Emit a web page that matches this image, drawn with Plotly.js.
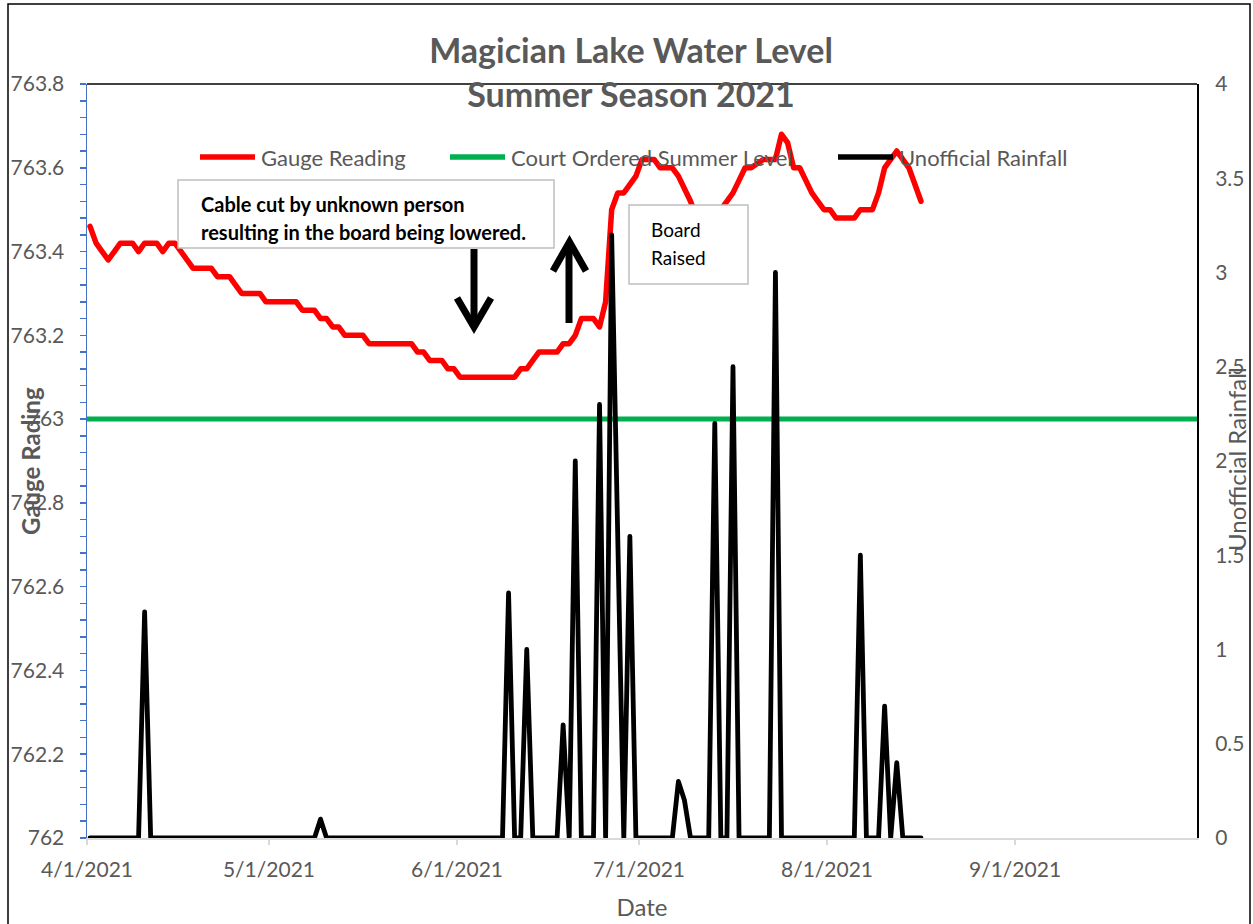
<!DOCTYPE html>
<html>
<head>
<meta charset="utf-8">
<script src="https://cdn.plot.ly/plotly-3.0.1.min.js"></script>
<style>
  html, body { margin: 0; padding: 0; background: #fff; }
  #chart { width: 1253px; height: 924px; }
  .scatterlayer path.js-line { stroke-linejoin: round; stroke-linecap: round; }
</style>
</head>
<body>
<div id="chart"></div>
<script>
// ---------------- DATA ----------------
const startDate = '2021-04-01';

const gaugeReading = [
  763.46, 763.42, 763.40, 763.38, 763.40, 763.42, 763.42, 763.42, 763.40, 763.42,
  763.42, 763.42, 763.40, 763.42, 763.42, 763.40, 763.38, 763.36, 763.36, 763.36,
  763.36, 763.34, 763.34, 763.34, 763.32, 763.30, 763.30, 763.30, 763.30, 763.28,
  763.28, 763.28, 763.28, 763.28, 763.28, 763.26, 763.26, 763.26, 763.24, 763.24,
  763.22, 763.22, 763.20, 763.20, 763.20, 763.20, 763.18, 763.18, 763.18, 763.18,
  763.18, 763.18, 763.18, 763.18, 763.16, 763.16, 763.14, 763.14, 763.14, 763.12,
  763.12, 763.10, 763.10, 763.10, 763.10, 763.10, 763.10, 763.10, 763.10, 763.10,
  763.10, 763.12, 763.12, 763.14, 763.16, 763.16, 763.16, 763.16, 763.18, 763.18,
  763.20, 763.24, 763.24, 763.24, 763.22, 763.28, 763.50, 763.54, 763.54, 763.56,
  763.58, 763.62, 763.62, 763.62, 763.60, 763.60, 763.60, 763.58, 763.55, 763.52,
  763.48, 763.46, 763.46, 763.48, 763.50, 763.52, 763.54, 763.57, 763.60, 763.60,
  763.61, 763.62, 763.62, 763.62, 763.68, 763.66, 763.60, 763.60, 763.57, 763.54,
  763.52, 763.50, 763.50, 763.48, 763.48, 763.48, 763.48, 763.50, 763.50, 763.50,
  763.54, 763.60, 763.62, 763.64, 763.62, 763.60, 763.56, 763.52
];

const unofficialRainfall = [
  0, 0, 0, 0, 0, 0, 0, 0, 0, 1.2,
  0, 0, 0, 0, 0, 0, 0, 0, 0, 0,
  0, 0, 0, 0, 0, 0, 0, 0, 0, 0,
  0, 0, 0, 0, 0, 0, 0, 0, 0.1, 0,
  0, 0, 0, 0, 0, 0, 0, 0, 0, 0,
  0, 0, 0, 0, 0, 0, 0, 0, 0, 0,
  0, 0, 0, 0, 0, 0, 0, 0, 0, 1.3,
  0, 0, 1.0, 0, 0, 0, 0, 0, 0.6, 0,
  2.0, 0, 0, 0, 2.3, 0, 3.2, 1.6, 0, 1.6,
  0, 0, 0, 0, 0, 0, 0, 0.3, 0.2, 0,
  0, 0, 0, 2.2, 0, 0, 2.5, 0, 0, 0,
  0, 0, 0, 3.0, 0, 0, 0, 0, 0, 0,
  0, 0, 0, 0, 0, 0, 0, 1.5, 0, 0,
  0, 0.7, 0, 0.4, 0, 0, 0, 0
];

const courtLevelDates = ['2021-04-01', '2021-10-01'];
const courtOrderedLevel = [763.0, 763.0];

const tickDates = ['2021-04-01', '2021-05-01', '2021-06-01', '2021-07-01', '2021-08-01', '2021-09-01'];
const tickLabels = ['4/1/2021', '5/1/2021', '6/1/2021', '7/1/2021', '8/1/2021', '9/1/2021'];

// daily date categories (points sit mid-day, like Excel's "between tick marks")
const dates = gaugeReading.map((_, i) => {
  const d = new Date(Date.UTC(2021, 3, 1 + i, 12));
  return d.toISOString().slice(0, 10) + ' 12:00';
});

// ---------------- LAYOUT HELPERS ----------------
const W = 1253, H = 924;
const L = 87, R = 1197, T = 84, B = 838;
const px = x => (x - L) / (R - L);
const py = y => (B - y) / (B - T);
const FONT = 'Lato, "Open Sans", sans-serif';
const GRAY = '#595959';

function pathFrom(points) {
  return points.map((p, i) => (i ? 'L' : 'M') + px(p[0]).toFixed(5) + ',' + py(p[1]).toFixed(5)).join(' ');
}

const traces = [
  {
    x: dates, y: gaugeReading, name: 'Gauge Reading', type: 'scatter', mode: 'lines',
    line: { color: '#ff0000', width: 5.5 }, yaxis: 'y', showlegend: false
  },
  {
    x: courtLevelDates, y: courtOrderedLevel, name: 'Court Ordered Summer Level', type: 'scatter', mode: 'lines',
    line: { color: '#00b050', width: 5 }, yaxis: 'y', showlegend: false
  },
  {
    x: dates, y: unofficialRainfall, name: 'Unofficial Rainfall', type: 'scatter', mode: 'lines',
    line: { color: '#000000', width: 4.8 }, yaxis: 'y2', showlegend: false
  }
];

const legendItems = [
  { label: 'Gauge Reading', color: '#ff0000', x: 200 },
  { label: 'Court Ordered Summer Level', color: '#00b050', x: 450 },
  { label: 'Unofficial Rainfall', color: '#000000', x: 838 }
];
const legendY = 157;

const shapes = [
  // outer chart border
  { type: 'rect', xref: 'paper', yref: 'paper', x0: px(8), x1: px(1250), y0: py(940), y1: py(4),
    line: { color: '#000', width: 1.5 }, fillcolor: 'rgba(0,0,0,0)', layer: 'below' },
  // plot area top border
  { type: 'line', xref: 'paper', yref: 'paper', x0: 0, x1: 1, y0: 1, y1: 1,
    line: { color: '#000', width: 1.5 }, layer: 'below' },
  // text boxes
  { type: 'rect', xref: 'paper', yref: 'paper', x0: px(178), x1: px(554), y0: py(248), y1: py(180),
    line: { color: '#bfbfbf', width: 1.5 }, fillcolor: '#ffffff', layer: 'above' },
  { type: 'rect', xref: 'paper', yref: 'paper', x0: px(629), x1: px(748), y0: py(284), y1: py(205),
    line: { color: '#bfbfbf', width: 1.5 }, fillcolor: '#ffffff', layer: 'above' },
  // down arrow
  { type: 'path', xref: 'paper', yref: 'paper', path: pathFrom([[474, 249], [474, 326]]),
    line: { color: '#000', width: 7 }, layer: 'above' },
  { type: 'path', xref: 'paper', yref: 'paper', path: pathFrom([[457, 298], [474, 327], [491, 298]]),
    line: { color: '#000', width: 7 }, layer: 'above' },
  // up arrow
  { type: 'path', xref: 'paper', yref: 'paper', path: pathFrom([[569, 323], [569, 243]]),
    line: { color: '#000', width: 7 }, layer: 'above' },
  { type: 'path', xref: 'paper', yref: 'paper', path: pathFrom([[553, 271], [569.5, 242], [586, 271]]),
    line: { color: '#000', width: 7 }, layer: 'above' }
];
legendItems.forEach(it => {
  shapes.push({ type: 'line', xref: 'paper', yref: 'paper', x0: px(it.x), x1: px(it.x + 55),
    y0: py(legendY), y1: py(legendY), line: { color: it.color, width: 5.5 }, layer: 'above' });
});

const annotations = [
  { text: 'Cable cut by unknown person', x: px(199), y: py(204), xanchor: 'left', yanchor: 'middle',
    font: { family: FONT, size: 20, color: '#000', weight: 'bold' } },
  { text: 'resulting in the board being lowered.', x: px(199), y: py(232), xanchor: 'left', yanchor: 'middle',
    font: { family: FONT, size: 20, color: '#000', weight: 'bold' } },
  { text: 'Board', x: px(649), y: py(229), xanchor: 'left', yanchor: 'middle',
    font: { family: FONT, size: 19, color: '#000' } },
  { text: 'Raised', x: px(649), y: py(257), xanchor: 'left', yanchor: 'middle',
    font: { family: FONT, size: 19, color: '#000' } },
  // axis titles (they overlap the tick labels in the reference)
  { text: '<b>Gauge Rading</b>', x: px(30), y: py(461), textangle: -90, xanchor: 'center', yanchor: 'middle',
    font: { family: FONT, size: 24, color: GRAY } },
  { text: 'Unofficial Rainfall', x: px(1237), y: py(459), textangle: -90, xanchor: 'center', yanchor: 'middle',
    font: { family: FONT, size: 24, color: GRAY } }
];
legendItems.forEach(it => {
  annotations.push({ text: it.label, x: px(it.x + 59), y: py(legendY), xanchor: 'left', yanchor: 'middle',
    font: { family: FONT, size: 22, color: GRAY } });
});
annotations.forEach(a => { a.xref = 'paper'; a.yref = 'paper'; a.showarrow = false; });

const tickFont = { family: FONT, size: 21, color: GRAY };

const layout = {
  width: W, height: H, autosize: false,
  margin: { l: L, r: W - R, t: T, b: H - B, pad: 0 },
  paper_bgcolor: '#ffffff', plot_bgcolor: '#ffffff',
  showlegend: false,
  title: {
    text: '<b>Magician Lake Water Level<br>Summer Season 2021</b>',
    font: { family: FONT, size: 34, color: GRAY },
    x: 631 / W, xanchor: 'center', xref: 'container',
    y: 1 - 63 / H, yanchor: 'middle', yref: 'container'
  },
  xaxis: {
    type: 'date', range: ['2021-04-01', '2021-10-01'],
    tickmode: 'array', tickvals: tickDates, ticktext: tickLabels,
    showline: true, linecolor: '#d9d9d9', linewidth: 1.5,
    ticks: 'outside', ticklen: 5, tickcolor: '#d9d9d9', tickwidth: 1.5,
    showgrid: false, zeroline: false, tickfont: tickFont, ticklabelstandoff: 7,
    title: { text: 'Date', font: { family: FONT, size: 24, color: GRAY }, standoff: 19 },
    automargin: false
  },
  yaxis: {
    range: [762, 763.8], tick0: 762, dtick: 0.2,
    showline: true, linecolor: '#4472c4', linewidth: 1.5,
    ticks: 'outside', ticklen: 6, tickcolor: '#4472c4', tickwidth: 1.5,
    minor: { dtick: 0.04, ticks: 'outside', ticklen: 6, tickcolor: '#4472c4', tickwidth: 1.5 },
    showgrid: false, zeroline: false, tickfont: tickFont, ticklabelstandoff: 11,
    automargin: false
  },
  yaxis2: {
    overlaying: 'y', side: 'right', range: [0, 4], tick0: 0, dtick: 0.5,
    showline: true, linecolor: '#000000', linewidth: 2,
    ticks: '', showgrid: false, zeroline: false, tickfont: tickFont, ticklabelstandoff: 12,
    automargin: false
  },
  shapes: shapes,
  annotations: annotations
};

Plotly.newPlot('chart', traces, layout, { displayModeBar: false, staticPlot: true });
</script>
</body>
</html>
